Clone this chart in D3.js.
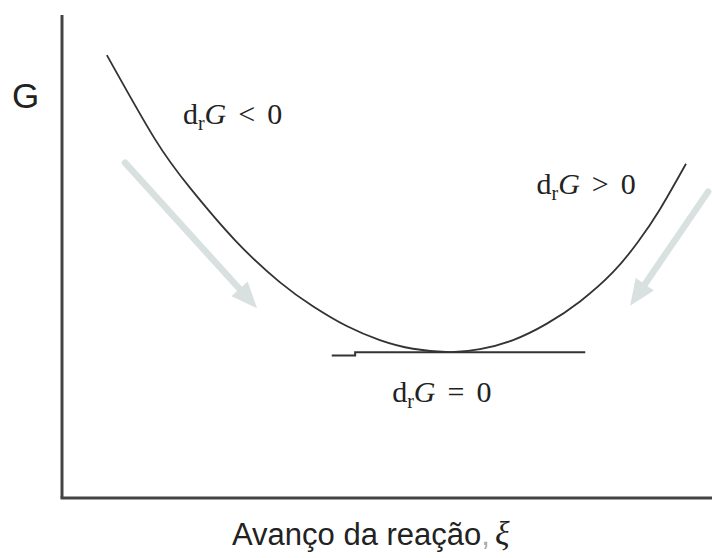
<!DOCTYPE html>
<html>
<head>
<meta charset="utf-8">
<script src="https://d3js.org/d3.v7.min.js"></script>
<style>
  body { margin: 0; background: #fff; }
  .serif { font-family: "Liberation Serif", "DejaVu Serif", serif; fill: #222; }
  .sans { font-family: "Liberation Sans", Arial, sans-serif; fill: #222; }
</style>
</head>
<body>
<div id="chart"></div>
<script>
// extent of reaction (0..1) and Gibbs energy (arbitrary units)
var xi = [0.069, 0.143, 0.197, 0.266, 0.335, 0.386, 0.438, 0.489, 0.540, 0.597,
          0.643, 0.694, 0.746, 0.797, 0.848, 0.886, 0.920, 0.960];
var gibbs = [0.917, 0.743, 0.642, 0.534, 0.447, 0.397, 0.356, 0.327, 0.309, 0.302,
             0.308, 0.327, 0.361, 0.407, 0.468, 0.530, 0.598, 0.692];

// tangent at the minimum (dG = 0)
var tangentXi = [0.415, 0.451, 0.451, 0.805];
var tangentG = [0.295, 0.295, 0.302, 0.302];

// direction arrows: [xiStart, gStart, xiEnd, gEnd]
var arrows = [
  [0.097, 0.694, 0.300, 0.393],
  [0.994, 0.634, 0.874, 0.398]
];

// region labels
var labelXi = [0.186, 0.730, 0.508];
var labelG = [0.774, 0.630, 0.199];
var labelOp = ["<", ">", "="];

var width = 712, height = 558;
var svg = d3.select("#chart").append("svg")
  .attr("width", width)
  .attr("height", height);

var x = d3.scaleLinear().domain([0, 1]).range([62, 712]);
var y = d3.scaleLinear().domain([0, 1]).range([498, 15]);

/* axes: just two plain lines, no ticks */
svg.append("line")
  .attr("x1", x(0)).attr("y1", y(1))
  .attr("x2", x(0)).attr("y2", y(0))
  .attr("stroke", "#444").attr("stroke-width", 3);
svg.append("line")
  .attr("x1", x(0) - 1.5).attr("y1", y(0))
  .attr("x2", x(1)).attr("y2", y(0))
  .attr("stroke", "#444").attr("stroke-width", 3);

/* arrows */
var arrowColor = "#d8e0e0";
arrows.forEach(function(a) {
  var x1 = x(a[0]), y1 = y(a[1]), x2 = x(a[2]), y2 = y(a[3]);
  var ang = Math.atan2(y2 - y1, x2 - x1);
  var headLen = 26, headW = 11;
  var bx = x2 - headLen * Math.cos(ang), by = y2 - headLen * Math.sin(ang);
  svg.append("line")
    .attr("x1", x1).attr("y1", y1)
    .attr("x2", bx).attr("y2", by)
    .attr("stroke", arrowColor).attr("stroke-width", 6.5)
    .attr("stroke-linecap", "round");
  var px = -Math.sin(ang), py = Math.cos(ang);
  svg.append("path")
    .attr("d", "M" + x2 + "," + y2 +
      "L" + (bx + px * headW) + "," + (by + py * headW) +
      "L" + (bx - px * headW) + "," + (by - py * headW) + "Z")
    .attr("fill", arrowColor);
});

/* tangent line */
var tangent = d3.line()
  .x(function(d, i) { return x(tangentXi[i]); })
  .y(function(d, i) { return y(tangentG[i]); });
svg.append("path")
  .attr("d", tangent(tangentXi))
  .attr("fill", "none")
  .attr("stroke", "#333")
  .attr("stroke-width", 2);

/* G curve */
var curve = d3.line()
  .x(function(d, i) { return x(xi[i]); })
  .y(function(d, i) { return y(gibbs[i]); })
  .curve(d3.curveNatural);
svg.append("path")
  .attr("d", curve(xi))
  .attr("fill", "none")
  .attr("stroke", "#333")
  .attr("stroke-width", 1.8);

/* labels d_rG <op> 0 */
labelXi.forEach(function(lx, i) {
  var t = svg.append("text")
    .attr("class", "serif")
    .attr("x", x(lx))
    .attr("y", y(labelG[i]))
    .attr("font-size", 30);
  t.append("tspan").text("d");
  t.append("tspan").attr("font-size", 20).attr("dy", 6).text("r");
  t.append("tspan").attr("font-style", "italic").attr("dy", -6).text("G");
  t.append("tspan").attr("dx", 12).text(labelOp[i]);
  t.append("tspan").attr("dx", 12).text("0");
});

/* axis titles */
svg.append("text")
  .attr("class", "sans")
  .attr("x", 12).attr("y", 108)
  .attr("font-size", 35)
  .text("G");

var xt = svg.append("text")
  .attr("class", "sans")
  .attr("x", 232).attr("y", 545)
  .attr("font-size", 31);
xt.append("tspan").text("Avanço da reação");
xt.append("tspan").attr("fill", "#aaa").text(",");
xt.append("tspan").attr("class", "serif").attr("font-style", "italic")
  .attr("font-size", 34).attr("dx", 5).text("ξ");
</script>
</body>
</html>
